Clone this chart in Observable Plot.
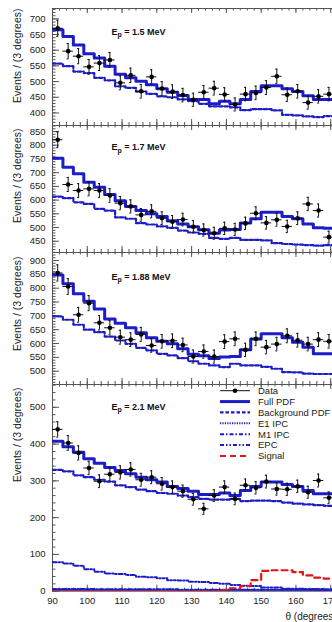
<!DOCTYPE html>
<html><head><meta charset="utf-8">
<script src="https://cdn.jsdelivr.net/npm/d3@7"></script>
<script src="https://cdn.jsdelivr.net/npm/@observablehq/plot@0.6"></script>
<style>
html,body{margin:0;padding:0;background:#fff;overflow:hidden;width:332px;height:622px}
#chart{position:relative;width:380px;height:622px}
#chart svg{display:block}
#legend{position:absolute;left:0;top:0;pointer-events:none}
</style></head><body><div id="chart"></div>
<script>
// ---- data (bins of 3 degrees) ----
const binWidth = 3;
const binCenters = [91.5,94.5,97.5,100.5,103.5,106.5,109.5,112.5,115.5,118.5,121.5,124.5,127.5,130.5,133.5,136.5,139.5,142.5,145.5,148.5,151.5,154.5,157.5,160.5,163.5,166.5,169.5];
const xMajorTicks = [90,100,110,120,130,140,150,160,170,180];
const xMinorTicks = d3.range(90, 181, 2);

const panelLabels = ["Ep = 1.5 MeV", "Ep = 1.7 MeV", "Ep = 1.88 MeV", "Ep = 2.1 MeV"];

// Ep = 1.5 MeV
const p1Data = [670,597,581,547,559,569,496,520,469,515,478,468,457,442,466,479,459,427,460,464,481,517,458,469,433,453,460];
const p1Full = [665,644,617,589,575,549,523,512,501,490,477,466,456,443,443,429,437,429,443,468,487,487,477,468,455,443,443];
const p1Bkg  = [557,549,532,527,512,504,485,480,468,461,453,450,443,438,429,421,421,418,409,412,412,408,394,392,389,387,390];
const p1YTicks = [400,450,500,550,600,650,700];

// Ep = 1.7 MeV
const p2Data = [820,657,635,641,635,617,589,577,546,559,534,521,529,503,491,479,497,493,515,552,517,528,504,534,586,562,465];
const p2Full = [753,720,696,665,647,620,598,577,562,550,540,525,513,503,492,479,491,493,517,532,556,556,540,532,513,499,497];
const p2Bkg  = [613,607,592,586,568,562,537,532,516,511,504,499,489,482,477,462,459,462,455,455,453,443,440,438,436,434,436];
const p2YTicks = [450,500,550,600,650,700,750,800,850];

// Ep = 1.88 MeV
const p3Data = [855,806,704,746,675,657,623,614,633,593,608,610,595,553,571,553,607,617,577,617,587,598,628,612,598,614,608];
const p3Full = [848,816,780,753,725,689,673,657,639,621,608,599,581,561,556,546,551,553,578,616,635,635,621,605,587,563,563];
const p3Bkg  = [698,686,668,650,641,625,611,599,584,575,563,557,547,536,527,521,515,527,521,521,516,509,497,496,491,490,490];
const p3YTicks = [500,550,600,650,700,750,800,850,900];

// Ep = 2.1 MeV
const p4Data   = [440,403,376,335,299,318,323,331,303,310,292,283,272,250,224,260,283,251,288,281,298,278,277,285,269,301,254];
const p4Full   = [408,393,378,360,348,336,328,319,310,303,297,285,279,272,263,263,267,260,274,285,297,297,290,285,274,265,265];
const p4Bkg    = [330,326,315,310,303,298,288,283,276,272,267,265,260,256,251,249,249,251,245,246,246,245,241,238,236,234,232];
const p4E1     = [3,3,3,3,3,3,3,3,3,2,2,2,2,2,2,2,2,2,2,2,2,2,2,2,2,2,2];
const p4M1     = [6,6,6,6,5,5,5,5,5,5,5,5,4,4,4,4,4,4,4,4,4,4,4,4,4,3,3];
const p4EPC    = [79,75,69,60,53,48,47,44,39,38,35,30,29,26,25,22,20,17,15,14,10,10,7,7,6,6,5];
const p4Signal = [0,0,0,0,0,0,0,0,0,0,0,0,0,0,0,0,3,8,14,30,55,57,57,52,43,37,34];
const p4YTicks = [0,100,200,300,400,500];

const yTitle = "Events / (3 degrees)";
const xTitle = "\u03b8 (degrees)";
const legendLabels = ["Data","Full PDF","Background PDF","E1 IPC","M1 IPC","EPC","Signal"];

// ---- styles ----
const BLUE = "#1c1cc8", RED = "#e01515", AX = "#555";
const FONT = "'Liberation Sans', Arial, Helvetica, sans-serif";
const W = 380, ML = 52, MR = 15, PW = W - ML - MR;
const BKG_DASH = "3.5,2";

function steps(vals) {
  const pts = vals.map((v, i) => ({x: binCenters[i] - binWidth / 2, y: v}));
  pts.push({x: binCenters[vals.length - 1] + binWidth / 2, y: vals[vals.length - 1]});
  return pts;
}

function panel(o) {
  const H = o.height - o.mt - o.mb;
  const pts = o.data.map((v, i) => ({x: binCenters[i], y: v}));
  const yMinor = d3.range(Math.ceil(o.domain[0] / o.minor) * o.minor, o.domain[1], o.minor);
  const marks = [
    Plot.frame({stroke: AX}),
    Plot.tickY(yMinor, {stroke: AX, insetRight: PW - 3.5}),
    Plot.tickY(o.yTicks, {stroke: AX, insetRight: PW - 7}),
    Plot.tickX(xMinorTicks, {stroke: AX, insetTop: H - 3}),
    Plot.tickX(xMajorTicks, {stroke: AX, insetTop: H - 6}),
    Plot.tickX(xMinorTicks, {stroke: AX, insetBottom: H - 2.5}),
    Plot.tickX(xMajorTicks, {stroke: AX, insetBottom: H - 5}),
    Plot.axisY({ticks: o.yTicks, tickSize: 0, tickPadding: 7, label: null, fill: "#222"}),
  ];
  if (o.showX) {
    marks.push(Plot.axisX({ticks: xMajorTicks, tickSize: 0, tickPadding: 6, label: null, fill: "#222"}));
    marks.push(Plot.text([xTitle], {frameAnchor: "bottom-right", dx: -80, dy: 26, textAnchor: "start", lineAnchor: "middle", fill: "#222", fontSize: 10}));
  } else {
    marks.push(Plot.axisX({ticks: [], tickSize: 0, label: null}));
  }
  // components
  (o.extra || []).forEach(e => marks.push(Plot.line(steps(e.vals), {x: "x", y: "y", curve: "step-after", stroke: e.color, strokeWidth: e.sw || 2, strokeDasharray: e.dash, clip: true})));
  marks.push(Plot.line(steps(o.bkg), {x: "x", y: "y", curve: "step-after", stroke: BLUE, strokeWidth: 2.2, strokeDasharray: BKG_DASH, clip: true}));
  marks.push(Plot.line(steps(o.full), {x: "x", y: "y", curve: "step-after", stroke: BLUE, strokeWidth: 3, clip: true}));
  // data with errors
  marks.push(Plot.ruleX(pts, {x: "x", y1: d => d.y - Math.sqrt(d.y), y2: d => d.y + Math.sqrt(d.y), stroke: "#111", strokeWidth: 1}));
  marks.push(Plot.ruleY(pts, {y: "y", x1: d => d.x - binWidth / 2, x2: d => d.x + binWidth / 2, stroke: "#111", strokeWidth: 1}));
  marks.push(Plot.ruleY(pts, {y: d => d.y + Math.sqrt(d.y), x1: d => d.x - 0.3, x2: d => d.x + 0.3, stroke: "#111", strokeWidth: 1}));
  marks.push(Plot.ruleY(pts, {y: d => d.y - Math.sqrt(d.y), x1: d => d.x - 0.3, x2: d => d.x + 0.3, stroke: "#111", strokeWidth: 1}));
  marks.push(Plot.dot(pts, {x: "x", y: "y", r: 2.3, fill: "#000", stroke: "none"}));
  // texts
  marks.push(Plot.text([o.label], {frameAnchor: "top-left", dx: 59, dy: o.labelDy, textAnchor: "start", lineAnchor: "bottom", fontWeight: "bold", fontSize: 9, fill: "#111"}));
  marks.push(Plot.text([yTitle], {frameAnchor: "top-left", dx: -35, dy: o.titleDy, rotate: -90, textAnchor: "end", lineAnchor: "middle", fontSize: 10.5, fill: "#222"}));

  const svg = Plot.plot({
    width: W, height: o.height,
    marginLeft: ML, marginRight: MR, marginTop: o.mt, marginBottom: o.mb,
    x: {domain: [90, 180]},
    y: {domain: o.domain},
    style: {fontFamily: FONT, fontSize: "9.5px", color: "#222", background: "transparent", overflow: "visible"},
    marks
  });
  d3.select(svg).selectAll("text").filter(function() { return this.textContent === o.label; })
    .each(function() {
      const rest = o.label.slice(2);
      const t = d3.select(this);
      t.text("E");
      t.append("tspan").attr("dy", "2.5").attr("font-size", "7").text("p");
      t.append("tspan").attr("dy", "-2.5").text(rest);
    });
  return svg;
}

const chart = document.getElementById("chart");
chart.appendChild(panel({label: panelLabels[0], data: p1Data, full: p1Full, bkg: p1Bkg, yTicks: p1YTicks, minor: 10, domain: [360, 733], height: 125, mt: 8, mb: 0, labelDy: 26, titleDy: 0}));
chart.appendChild(panel({label: panelLabels[1], data: p2Data, full: p2Full, bkg: p2Bkg, yTicks: p2YTicks, minor: 10, domain: [409, 872], height: 127, mt: 0, mb: 0, labelDy: 24.5, titleDy: 3}));
chart.appendChild(panel({label: panelLabels[2], data: p3Data, full: p3Full, bkg: p3Bkg, yTicks: p3YTicks, minor: 10, domain: [452, 929], height: 132, mt: 0, mb: 0, labelDy: 27, titleDy: 4}));
chart.appendChild(panel({label: panelLabels[3], data: p4Data, full: p4Full, bkg: p4Bkg, yTicks: p4YTicks, minor: 20, domain: [0, 562], height: 238, mt: 0, mb: 31.3, labelDy: 25, titleDy: 3, showX: true,
  extra: [
    {vals: p4E1, color: BLUE, dash: "1.2,1.2"},
    {vals: p4M1, color: BLUE, dash: "4,2,1.5,2"},
    {vals: p4EPC, color: BLUE, dash: "4,2,1.5,2,1.5,2"},
    {vals: p4Signal, color: RED, dash: "6,4", sw: 2.2}
  ]}));

// legend overlay (inside the last panel)
const leg = d3.select(chart).append("svg").attr("id", "legend").attr("width", W).attr("height", 622)
  .style("font-family", FONT).style("font-size", "9.5px");
const legStyles = [
  {stroke: "#111", sw: 1, dash: null, dot: true},
  {stroke: BLUE, sw: 3, dash: null},
  {stroke: BLUE, sw: 2.2, dash: BKG_DASH},
  {stroke: BLUE, sw: 2, dash: "1.2,1.2"},
  {stroke: BLUE, sw: 2, dash: "4,2,1.5,2"},
  {stroke: BLUE, sw: 2, dash: "4,2,1.5,2,1.5,2"},
  {stroke: RED, sw: 2.2, dash: "6,4"}
];
const legY = d3.scalePoint().domain(legendLabels).range([390.7, 456]);
legendLabels.forEach((lab, i) => {
  const s = legStyles[i], y = legY(lab);
  leg.append("line").attr("x1", 220).attr("x2", 250).attr("y1", y).attr("y2", y)
    .attr("stroke", s.stroke).attr("stroke-width", s.sw).attr("stroke-dasharray", s.dash);
  if (s.dot) leg.append("circle").attr("cx", 235).attr("cy", y).attr("r", 2.3).attr("fill", "#000");
  leg.append("text").attr("x", 258).attr("y", y).attr("dy", "0.35em").attr("fill", "#222").text(lab);
});
</script></body></html>
